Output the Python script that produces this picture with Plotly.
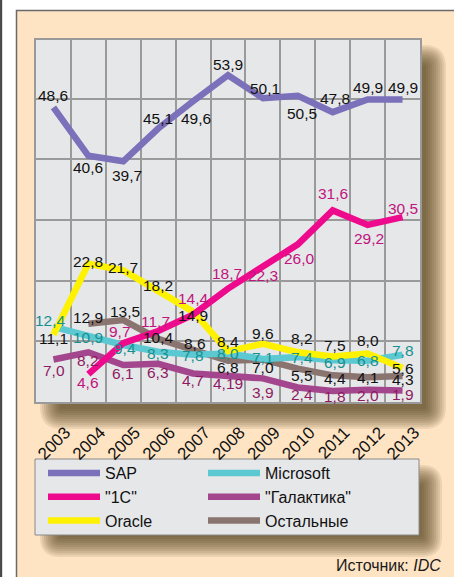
import plotly.graph_objects as go

# ---------------- data ----------------
years = [2003, 2004, 2005, 2006, 2007, 2008, 2009, 2010, 2011, 2012, 2013]
year_labels = [str(y) for y in years]

sap = [48.6, 40.6, 39.7, 45.1, 49.6, 53.9, 50.1, 50.5, 47.8, 49.9, 49.9]
one_c = [None, 4.6, 9.7, 11.7, 14.4, 18.7, 22.3, 26.0, 31.6, 29.2, 30.5]
oracle = [11.1, 22.8, 21.7, 18.2, 14.9, 8.4, 9.6, 8.2, 7.5, 8.0, 5.6]
microsoft = [12.4, 10.9, 9.4, 8.3, 7.8, 8.0, 7.1, 7.4, 6.9, 6.8, 7.8]
galaktika = [7.0, 8.2, 6.1, 6.3, 4.7, 4.19, 3.9, 2.4, 1.8, 2.0, 1.9]
others = [None, 12.9, 13.5, 10.4, 8.6, 6.8, 7.0, 5.5, 4.4, 4.1, 4.3]

names = ["SAP", "\"1С\"", "Oracle", "Microsoft", "\"Галактика\"", "Остальные"]

# ---------------- styles ----------------
W, H = 454, 577
ML, MR, MT, MB = 36, 34, 40, 175
PW, PH = W - ML - MR, H - MT - MB

line_colors = {
    "SAP": "#7B70BA", "1C": "#EE0A8C", "Oracle": "#FFF200",
    "Microsoft": "#5CC8D2", "Galaktika": "#A4468E", "Others": "#8A7470",
}
label_colors = {
    "SAP": "#111111", "1C": "#C0147E", "Oracle": "#111111",
    "Microsoft": "#16908F", "Galaktika": "#8E1B62", "Others": "#111111",
}
# label offsets in px (dx right, dy down) relative to the data point
offsets = {
    "SAP": [(0, -12), (0, 12), (4, 14), (0, -10), (3, 17), (0, -11), (2, -10), (4, 18), (2, -14), (0, -12), (0, -12)],
    "1C": [None, (0, 8), (-3, -12), (-3, -10), (0, -16), (-1, -15), (0, 9), (2, 14), (0, -17), (1, 14), (0, -9)],
    "Oracle": [(0, 4), (0, -2), (0, -3), (0, -6), (0, 4), (0, -10), (0, -10), (4, -14), (2, -11), (0, -13), (0, 0)],
    "Microsoft": [(-3, -6), (0, 2), (2, 3), (0, 2), (0, 1), (0, 0), (0, -1), (4, 0), (2, 2), (0, 0), (0, -4)],
    "Galaktika": [(1, 11), (0, 8), (0, 8), (0, 9), (0, 7), (0, 7), (0, 14), (4, 7), (2, 5), (0, 6), (0, 4)],
    "Others": [None, (0, -6), (2, -9), (0, -1), (2, -6), (0, 7), (0, 8), (4, 7), (2, 3), (0, 0), (0, 4)],
}

# (key, legend name, values, legend id, rank)
series = [
    ("Galaktika", names[4], galaktika, "legend2", 2),
    ("Others", names[5], others, "legend2", 3),
    ("Microsoft", names[3], microsoft, "legend2", 1),
    ("Oracle", names[2], oracle, "legend", 3),
    ("1C", names[1], one_c, "legend", 2),
    ("SAP", names[0], sap, "legend", 1),
]

LABEL_FONT = "Liberation Sans Narrow, Arial Narrow, Liberation Sans, Arial, sans-serif"
MAIN_FONT = "Liberation Sans, Arial, Helvetica, sans-serif"


def xf(px):
    return (px - ML) / PW


def yf(py):
    return (MT + PH - py) / PH


def fmt(v):
    s = f"{v:.1f}" if abs(round(v, 1) - v) < 1e-9 else f"{v:.2f}"
    return s.replace(".", ",")


def rrect(x0, y0, x1, y1, r):
    pts = [
        ("M", [(x0 + r, y0)]), ("L", [(x1 - r, y0)]), ("Q", [(x1, y0), (x1, y0 + r)]),
        ("L", [(x1, y1 - r)]), ("Q", [(x1, y1), (x1 - r, y1)]), ("L", [(x0 + r, y1)]),
        ("Q", [(x0, y1), (x0, y1 - r)]), ("L", [(x0, y0 + r)]), ("Q", [(x0, y0), (x0 + r, y0)]),
    ]
    out = ""
    for cmd, ps in pts:
        out += cmd + " " + " ".join(f"{xf(a):.5f},{yf(b):.5f}" for a, b in ps) + " "
    return out + "Z"


fig = go.Figure()

for key, name, vals, leg, rank in series:
    fig.add_trace(go.Scatter(
        x=years, y=vals, name=name, mode="lines",
        line=dict(color=line_colors[key], width=6.5),
        legend=leg, legendrank=rank, connectgaps=False, hoverinfo="skip",
    ))

annotations = []
for key, name, vals, leg, rank in series:
    for i, v in enumerate(vals):
        if v is None:
            continue
        dx, dy = offsets[key][i]
        annotations.append(dict(
            x=years[i], y=v, xref="x", yref="y", text=fmt(v), showarrow=False,
            xshift=dx, yshift=-dy, font=dict(family=LABEL_FONT, size=15.5, color=label_colors[key]),
        ))

annotations.append(dict(
    x=xf(443), y=yf(565), xref="paper", yref="paper", xanchor="right", yanchor="middle",
    text="Источник: <i>IDC</i>", showarrow=False,
    font=dict(family=MAIN_FONT, size=16, color="#1a1a1a"),
))

shapes = []
# left border line of the page
shapes.append(dict(type="rect", xref="paper", yref="paper", x0=xf(0), x1=xf(2.2), y0=yf(H + 5), y1=yf(-5),
                   fillcolor="#4a4a4a", line=dict(width=0), layer="below"))
# peach panel
shapes.append(dict(type="rect", xref="paper", yref="paper", x0=xf(16.5), x1=xf(W + 10), y0=yf(H + 10), y1=yf(10.5),
                   fillcolor="#FFE4C4", line=dict(color="#6a6a6a", width=1.5), layer="below"))
# plot shadow
for i in range(11):
    shapes.append(dict(type="path", xref="paper", yref="paper",
                       path=rrect(40 + 2 * i, 45 + 2 * i, 446 - 2 * i, 429 - 2 * i, max(22 - 2 * i, 2)),
                       fillcolor="rgba(85,62,30,0.11)", line=dict(width=0), layer="below"))
# plot area
shapes.append(dict(type="rect", xref="paper", yref="paper", x0=0, x1=1, y0=0, y1=1,
                   fillcolor="#E6E7E9", line=dict(width=0), layer="below"))
# legend shadow
for i in range(11):
    shapes.append(dict(type="path", xref="paper", yref="paper",
                       path=rrect(40 + 2 * i, 465 + 2 * i, 442 - 2 * i, 557 - 2 * i, max(20 - 2 * i, 2)),
                       fillcolor="rgba(85,62,30,0.11)", line=dict(width=0), layer="below"))
# legend box
shapes.append(dict(type="rect", xref="paper", yref="paper", x0=xf(35), x1=xf(419), y0=yf(535), y1=yf(459),
                   fillcolor="#E6E7E9", line=dict(color="#8a8a8a", width=1), layer="below"))

legend_common = dict(
    orientation="v", xanchor="left", yanchor="top",
    bgcolor="rgba(0,0,0,0)", borderwidth=0, itemwidth=52,
    font=dict(family=MAIN_FONT, size=16, color="#111111"),
)

fig.update_layout(
    width=W, height=H,
    margin=dict(l=ML, r=MR, t=MT, b=MB, pad=0),
    paper_bgcolor="white", plot_bgcolor="rgba(0,0,0,0)",
    showlegend=True,
    legend=dict(x=xf(43), y=yf(456), **legend_common),
    legend2=dict(x=xf(203), y=yf(456), **legend_common),
    xaxis=dict(
        range=[2002.5, 2013.5], tickvals=years, ticktext=year_labels, tickangle=-45,
        showgrid=False, zeroline=False, showline=True, mirror=True, linecolor="#9a9a9a", linewidth=2,
        ticks="", ticklabelshift=12, ticklabelstandoff=12,
        tickfont=dict(family=MAIN_FONT, size=17, color="#111111"),
        minor=dict(tickvals=[y + 0.5 for y in years[:-1]], showgrid=True, gridcolor="#9a9a9a", gridwidth=1.5, ticks=""),
        fixedrange=True,
    ),
    yaxis=dict(
        range=[0, 59.7], dtick=10, showgrid=True, gridcolor="#9a9a9a", gridwidth=1.5,
        zeroline=False, showline=True, mirror=True, linecolor="#9a9a9a", linewidth=2,
        showticklabels=False, ticks="", fixedrange=True,
    ),
    shapes=shapes,
    annotations=annotations,
)

fig.write_html("out.html")
